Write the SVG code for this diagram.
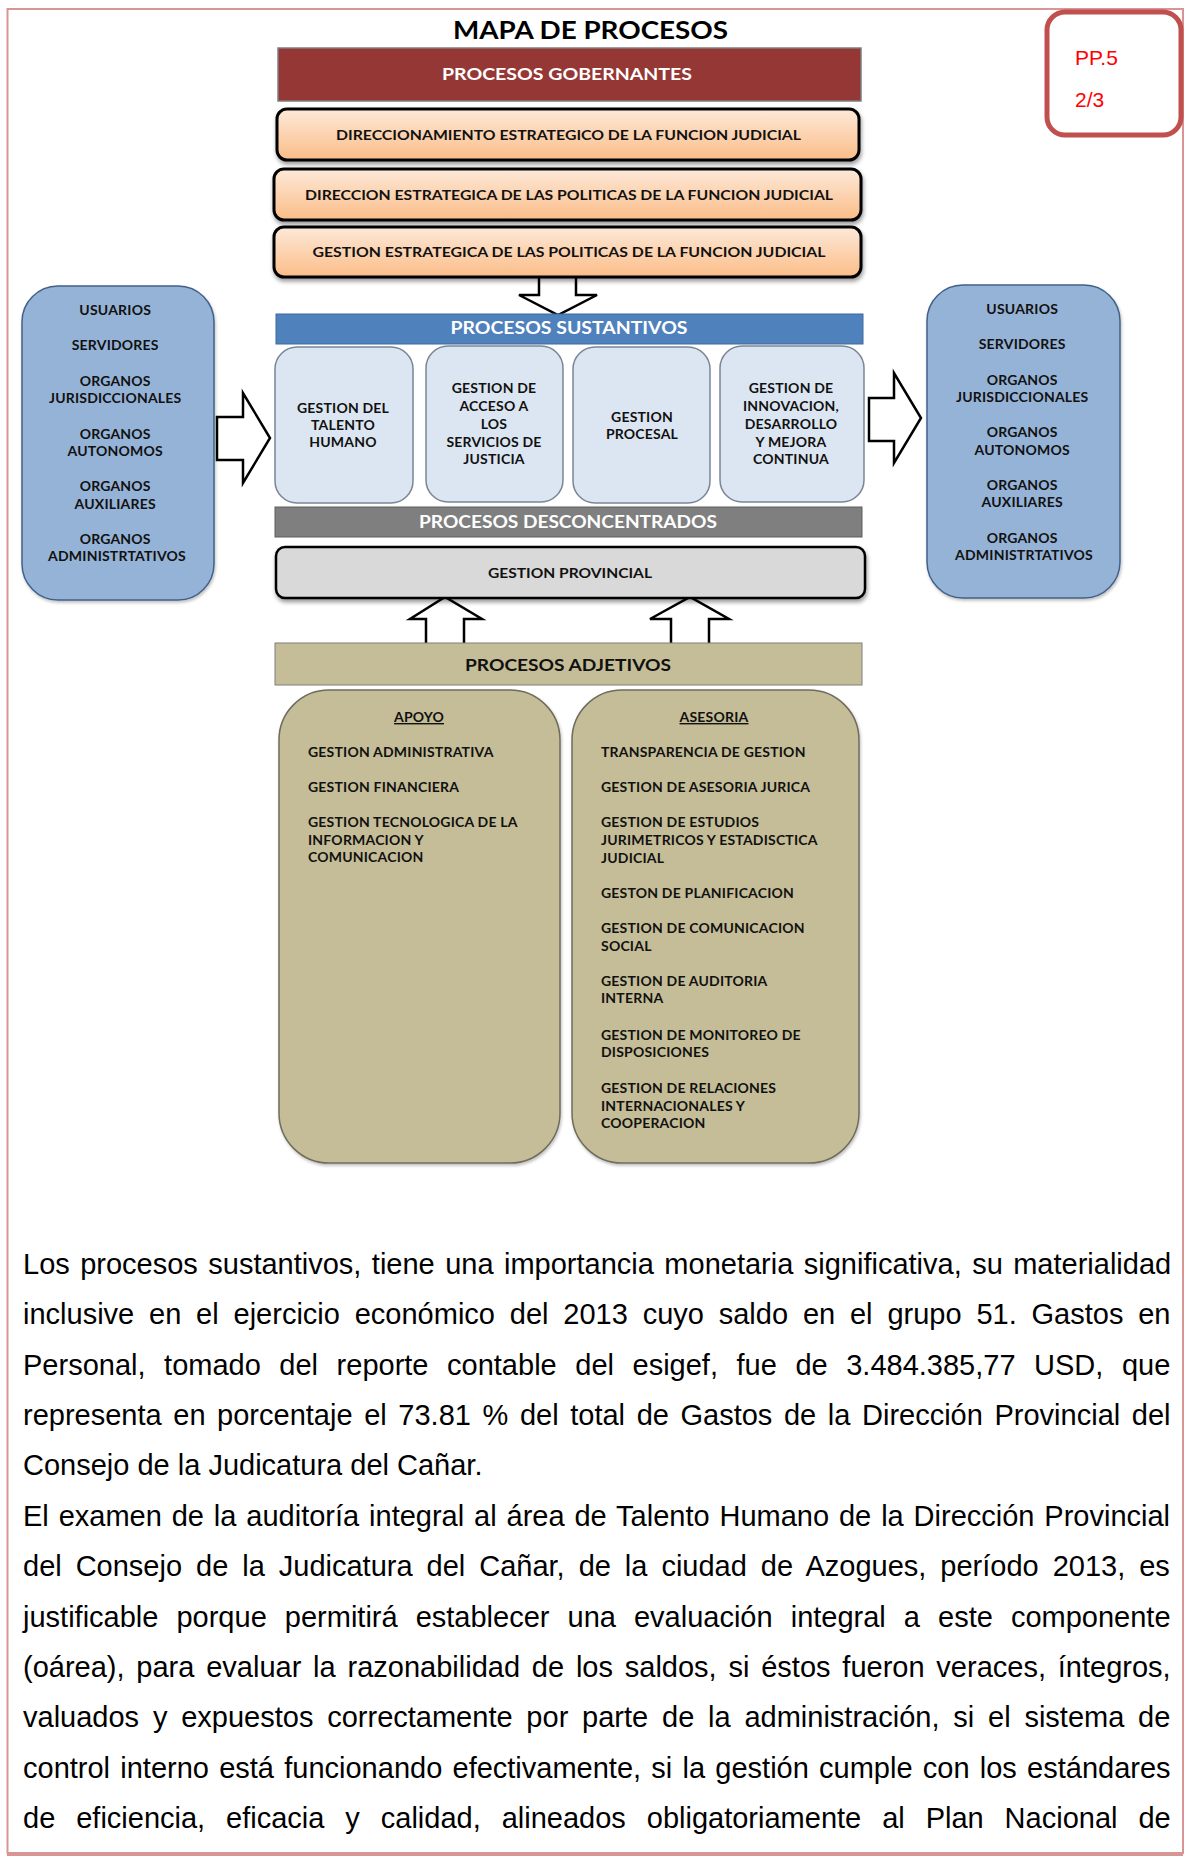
<svg xmlns="http://www.w3.org/2000/svg" width="1185" height="1859" viewBox="0 0 1185 1859">
  <defs>
    <linearGradient id="peach" x1="0" y1="0" x2="0" y2="1">
      <stop offset="0" stop-color="#fde9d9"/>
      <stop offset="1" stop-color="#fbbd88"/>
    </linearGradient>
    <filter id="shadow" x="-5%" y="-20%" width="110%" height="160%">
      <feDropShadow dx="1" dy="3" stdDeviation="2" flood-color="#000" flood-opacity="0.4"/>
    </filter>
    <filter id="soft" x="-5%" y="-5%" width="115%" height="115%">
      <feDropShadow dx="1" dy="2" stdDeviation="1.5" flood-color="#000" flood-opacity="0.25"/>
    </filter>
  </defs>
  <style>
    .lbl{font-family:Lato,'Open Sans','Liberation Sans',sans-serif;font-weight:700;}
    .sm{font-size:14px;fill:#111;letter-spacing:0.2px;}
    .wh{fill:#fff;}
    .body{font-family:'Liberation Sans',Arial,sans-serif;font-size:29px;fill:#000;}
    .arrow{fill:#fff;stroke:#000;stroke-width:2.5;stroke-linejoin:miter;}
    .peach{fill:url(#peach);stroke:#000;stroke-width:3;filter:url(#shadow);}
    .sust{fill:#dce6f2;stroke:#7a8696;stroke-width:1.5;}
    .side{fill:#95b3d7;stroke:#41618a;stroke-width:1.5;filter:url(#soft);}
    .adj{fill:#c4bd97;stroke:#6f6c5c;stroke-width:1.5;filter:url(#soft);}
  </style>

  <rect width="1185" height="1859" fill="#fff"/>

  <!-- page frame -->
  <g id="page-frame" fill="none" stroke="#d99594">
    <path d="M7.5,1854 V9 H1183 V1854" stroke-width="2"/>
    <line x1="7" y1="1854" x2="1183" y2="1854" stroke-width="4"/>
  </g>

  <!-- page tag -->
  <g id="page-tag">
    <rect x="1047" y="12" width="134" height="123" rx="18" fill="#fff" stroke="#c0504d" stroke-width="5"/>
    <text x="1075" y="65" font-family="'Liberation Sans',Arial,sans-serif" font-size="21" fill="#ff0000">PP.5</text>
    <text x="1075" y="107" font-family="'Liberation Sans',Arial,sans-serif" font-size="21" fill="#ff0000">2/3</text>
  </g>

  <text id="title" class="lbl" x="590.5" y="39" font-size="24.5" text-anchor="middle" fill="#000" textLength="275" lengthAdjust="spacingAndGlyphs">MAPA DE PROCESOS</text>

  <!-- connectors -->
  <g id="connectors">
    <path class="arrow" d="M539,277 V295 H519 L558,315 L597,295 H576 V277"/>
    <polygon class="arrow" points="217,417 243,417 243,393 270,438 243,483 243,460 217,460"/>
    <polygon class="arrow" points="869,398 894,398 894,373 921,418 894,463 894,441 869,441"/>
    <path class="arrow" d="M426,643 V619 H410 L445,597 L482,619 H464 V643"/>
    <path class="arrow" d="M671,643 V619 H650 L690,597 L729,619 H709 V643"/>
  </g>

  <!-- governing processes -->
  <g id="gobernantes">
    <rect x="278" y="48" width="583" height="53" fill="#953735" stroke="#7f7f7f" stroke-width="1.5"/>
    <text class="lbl wh" x="567" y="80" font-size="17" text-anchor="middle" textLength="250" lengthAdjust="spacingAndGlyphs">PROCESOS GOBERNANTES</text>
  </g>
  <g id="direccionamiento">
    <rect class="peach" x="277" y="109" width="582" height="51" rx="10"/>
    <text class="lbl" x="568.5" y="140" font-size="13.5" fill="#111" text-anchor="middle" textLength="465" lengthAdjust="spacingAndGlyphs">DIRECCIONAMIENTO  ESTRATEGICO DE LA FUNCION JUDICIAL</text>
  </g>
  <g id="direccion-politicas">
    <rect class="peach" x="274" y="169" width="587" height="51" rx="10"/>
    <text class="lbl" x="569" y="200" font-size="13.5" fill="#111" text-anchor="middle" textLength="528" lengthAdjust="spacingAndGlyphs">DIRECCION ESTRATEGICA DE LAS POLITICAS  DE LA FUNCION JUDICIAL</text>
  </g>
  <g id="gestion-politicas">
    <rect class="peach" x="274" y="227" width="587" height="50" rx="10"/>
    <text class="lbl" x="569" y="257" font-size="13.5" fill="#111" text-anchor="middle" textLength="513" lengthAdjust="spacingAndGlyphs">GESTION ESTRATEGICA DE LAS POLITICAS  DE LA  FUNCION JUDICIAL</text>
  </g>

  <!-- core processes -->
  <g id="sustantivos">
    <rect x="276" y="314" width="587" height="30" fill="#4f81bd" stroke="#3f6a9e" stroke-width="1"/>
    <text class="lbl wh" x="569" y="334" font-size="16.5" text-anchor="middle" textLength="237" lengthAdjust="spacingAndGlyphs">PROCESOS SUSTANTIVOS</text>
  </g>
  <g id="talento-humano">
    <rect class="sust" x="275" y="347" width="138" height="156" rx="22"/>
    <text class="lbl sm" text-anchor="middle"><tspan x="343" y="413">GESTION DEL</tspan><tspan x="343" y="430">TALENTO</tspan><tspan x="343" y="447">HUMANO</tspan></text>
  </g>
  <g id="acceso-justicia">
    <rect class="sust" x="426" y="346" width="137" height="156" rx="22"/>
    <text class="lbl sm" text-anchor="middle"><tspan x="494" y="393">GESTION DE</tspan><tspan x="494" y="411">ACCESO A</tspan><tspan x="494" y="429">LOS</tspan><tspan x="494" y="447">SERVICIOS DE</tspan><tspan x="494" y="464">JUSTICIA</tspan></text>
  </g>
  <g id="gestion-procesal">
    <rect class="sust" x="573" y="347" width="137" height="156" rx="22"/>
    <text class="lbl sm" text-anchor="middle"><tspan x="642" y="422">GESTION</tspan><tspan x="642" y="439">PROCESAL</tspan></text>
  </g>
  <g id="innovacion">
    <rect class="sust" x="720" y="346" width="144" height="156" rx="22"/>
    <text class="lbl sm" text-anchor="middle"><tspan x="791" y="393">GESTION DE</tspan><tspan x="791" y="411">INNOVACION,</tspan><tspan x="791" y="429">DESARROLLO</tspan><tspan x="791" y="447">Y MEJORA</tspan><tspan x="791" y="464">CONTINUA</tspan></text>
  </g>

  <!-- decentralised processes -->
  <g id="desconcentrados">
    <rect x="275" y="507" width="587" height="30" fill="#7f7f7f" stroke="#5f5f5f" stroke-width="1"/>
    <text class="lbl wh" x="568" y="528" font-size="16.5" text-anchor="middle" textLength="298" lengthAdjust="spacingAndGlyphs">PROCESOS DESCONCENTRADOS</text>
  </g>
  <g id="gestion-provincial">
    <rect x="276" y="547" width="589" height="51" rx="9" fill="#d9d9d9" stroke="#000" stroke-width="2.5" filter="url(#shadow)"/>
    <text class="lbl" x="570" y="578" font-size="14" fill="#111" text-anchor="middle" textLength="164" lengthAdjust="spacingAndGlyphs">GESTION PROVINCIAL</text>
  </g>

  <!-- supporting processes -->
  <g id="adjetivos">
    <rect x="275" y="643" width="587" height="42" fill="#c4bd97" stroke="#7f7f7f" stroke-width="1"/>
    <text class="lbl" x="568" y="671" font-size="17" fill="#111" text-anchor="middle" textLength="206" lengthAdjust="spacingAndGlyphs">PROCESOS ADJETIVOS</text>
  </g>
  <g id="apoyo">
    <rect class="adj" x="279" y="690" width="281" height="473" rx="50"/>
    <text class="lbl sm" x="419" y="722" text-anchor="middle" text-decoration="underline">APOYO</text>
    <text class="lbl sm">
      <tspan x="308" y="757">GESTION ADMINISTRATIVA</tspan>
      <tspan x="308" y="792">GESTION FINANCIERA</tspan>
      <tspan x="308" y="827">GESTION TECNOLOGICA DE LA</tspan>
      <tspan x="308" y="845">INFORMACION Y</tspan>
      <tspan x="308" y="862">COMUNICACION</tspan>
    </text>
  </g>
  <g id="asesoria">
    <rect class="adj" x="572" y="690" width="287" height="473" rx="50"/>
    <text class="lbl sm" x="714" y="722" text-anchor="middle" text-decoration="underline">ASESORIA</text>
    <text class="lbl sm">
      <tspan x="601" y="757">TRANSPARENCIA DE GESTION</tspan>
      <tspan x="601" y="792">GESTION DE ASESORIA JURICA</tspan>
      <tspan x="601" y="827">GESTION DE ESTUDIOS</tspan>
      <tspan x="601" y="845">JURIMETRICOS Y ESTADISCTICA</tspan>
      <tspan x="601" y="863">JUDICIAL</tspan>
      <tspan x="601" y="898">GESTON DE PLANIFICACION</tspan>
      <tspan x="601" y="933">GESTION DE COMUNICACION</tspan>
      <tspan x="601" y="951">SOCIAL</tspan>
      <tspan x="601" y="986">GESTION DE AUDITORIA</tspan>
      <tspan x="601" y="1003">INTERNA</tspan>
      <tspan x="601" y="1040">GESTION DE MONITOREO DE</tspan>
      <tspan x="601" y="1057">DISPOSICIONES</tspan>
      <tspan x="601" y="1093">GESTION DE RELACIONES</tspan>
      <tspan x="601" y="1111">INTERNACIONALES Y</tspan>
      <tspan x="601" y="1128">COOPERACION</tspan>
    </text>
  </g>

  <!-- stakeholders (input side) -->
  <g id="actores-entrada">
    <rect class="side" x="22" y="286" width="192" height="314" rx="36"/>
    <text class="lbl sm" text-anchor="middle">
      <tspan x="117" y="315">USUARIOS</tspan>
      <tspan x="117" y="350">SERVIDORES</tspan>
      <tspan x="117" y="386">ORGANOS</tspan>
      <tspan x="117" y="403">JURISDICCIONALES</tspan>
      <tspan x="117" y="439">ORGANOS</tspan>
      <tspan x="117" y="456">AUTONOMOS</tspan>
      <tspan x="117" y="491">ORGANOS</tspan>
      <tspan x="117" y="509">AUXILIARES</tspan>
      <tspan x="117" y="544">ORGANOS</tspan>
      <tspan x="117" y="561">ADMINISTRTATIVOS</tspan>
    </text>
  </g>

  <!-- stakeholders (output side) -->
  <g id="actores-salida">
    <rect class="side" x="927" y="285" width="193" height="313" rx="36"/>
    <text class="lbl sm" text-anchor="middle">
      <tspan x="1024" y="314">USUARIOS</tspan>
      <tspan x="1024" y="349">SERVIDORES</tspan>
      <tspan x="1024" y="385">ORGANOS</tspan>
      <tspan x="1024" y="402">JURISDICCIONALES</tspan>
      <tspan x="1024" y="437">ORGANOS</tspan>
      <tspan x="1024" y="455">AUTONOMOS</tspan>
      <tspan x="1024" y="490">ORGANOS</tspan>
      <tspan x="1024" y="507">AUXILIARES</tspan>
      <tspan x="1024" y="543">ORGANOS</tspan>
      <tspan x="1024" y="560">ADMINISTRTATIVOS</tspan>
    </text>
  </g>

  <!-- body paragraphs, justified through per-line word spacing -->
  <g id="texto" class="body">
    <text x="23" y="1274" word-spacing="2.38">Los procesos sustantivos, tiene una importancia monetaria significativa, su materialidad</text>
    <text x="23" y="1324.4" word-spacing="6.77">inclusive en el ejercicio económico del 2013 cuyo saldo en el grupo 51. Gastos en</text>
    <text x="23" y="1374.7" word-spacing="10.5">Personal, tomado del reporte contable del esigef, fue de 3.484.385,77 USD, que</text>
    <text x="23" y="1425.1" word-spacing="3.55">representa en porcentaje el 73.81 % del total de Gastos de la Dirección Provincial del</text>
    <text x="23" y="1475.4">Consejo de la Judicatura del Cañar.</text>
    <text x="23" y="1525.8" word-spacing="1.83">El examen de la auditoría integral al área de Talento Humano de la Dirección Provincial</text>
    <text x="23" y="1576.2" word-spacing="5.91">del Consejo de la Judicatura del Cañar, de la ciudad de Azogues, período 2013, es</text>
    <text x="23" y="1626.5" word-spacing="10.0">justificable porque permitirá establecer una evaluación integral a este componente</text>
    <text x="23" y="1676.9" word-spacing="3.75">(oárea), para evaluar la razonabilidad de los saldos, si éstos fueron veraces, íntegros,</text>
    <text x="23" y="1727.2" word-spacing="5.75">valuados y expuestos correctamente por parte de la administración, si el sistema de</text>
    <text x="23" y="1777.6" word-spacing="2.18">control interno está funcionando efectivamente, si la gestión cumple con los estándares</text>
    <text x="23" y="1828" word-spacing="12.88">de eficiencia, eficacia y calidad, alineados obligatoriamente al Plan Nacional de</text>
  </g>
</svg>
